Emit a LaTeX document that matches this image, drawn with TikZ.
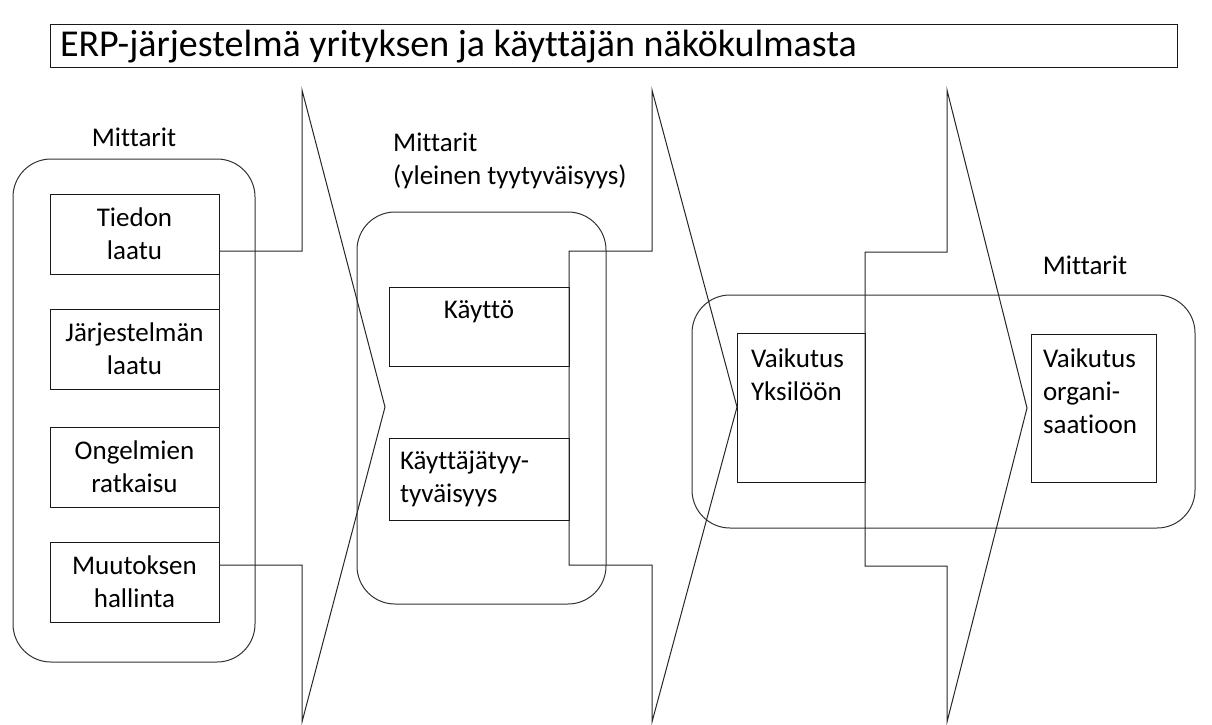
\documentclass[tikz,border=0pt]{standalone}
\usepackage{fontspec}
\setmainfont{Carlito}[Ligatures=NoCommon]
\usetikzlibrary{positioning, calc}

\begin{document}
\begin{tikzpicture}[
        x=1pt, y=-1pt,
        box/.style={rectangle, draw=black!90, line width=1pt, inner sep=0pt, font=\fontsize{27}{33}\selectfont},
        group/.style={rectangle, draw=black!80, line width=1pt, rounded corners=38pt, inner sep=0pt},
        flow/.style={draw=black!85, line width=1pt},
        lbl/.style={font=\fontsize{27}{33}\selectfont, inner sep=0pt},
        head/.style={rectangle, draw=black!90, line width=1pt, font=\fontsize{38}{45}\selectfont, align=flush left, inner xsep=10pt}
    ]
        \useasboundingbox (0,0) rectangle (1212,725);

        % ----------------------------------------------------
        % TITLE
        % ----------------------------------------------------
        \node[head, minimum width=1127pt, minimum height=43pt, text width=1107pt] (title) at (613.5,46.5) {ERP-järjestelmä yrityksen ja käyttäjän näkökulmasta};

        % ----------------------------------------------------
        % GROUPS (rounded frames) AND THEIR LABELS
        % ----------------------------------------------------
        \node[group, minimum width=242pt, minimum height=503pt] (grpsys) at (134,410.5) {};
        \node[group, minimum width=249pt, minimum height=392pt] (grpuse) at (481.5,408) {};
        \node[group, minimum width=503pt, minimum height=233pt] (grpnet) at (943.5,411.5) {};

        \node[lbl] (lblsys) at (134,137) {Mittarit};
        \node[lbl, align=left, anchor=north west] (lbluse) at (393,133) {Mittarit\\(yleinen tyytyväisyys)};
        \node[lbl] (lblnet) at (1085,265) {Mittarit};

        % ----------------------------------------------------
        % MEASURE BOXES
        % ----------------------------------------------------
        \node[box, align=center, minimum width=169pt, minimum height=80pt] (tiedon) at (134.5,234) {Tiedon\\laatu};
        \node[box, align=center, minimum width=169pt, minimum height=80pt] (jarj) at (134.5,349) {Järjestelmän\\laatu};
        \node[box, align=center, minimum width=169pt, minimum height=80pt] (ongel) at (134.5,467) {Ongelmien\\ratkaisu};
        \node[box, align=center, minimum width=169pt, minimum height=80pt] (muutos) at (134.5,582) {Muutoksen\\hallinta};

        \node[box, align=center, text width=158pt, inner xsep=11pt, minimum width=180pt, minimum height=79pt] (kaytto) at (479,326.5) {Käyttö\\\mbox{}};
        \node[box, align=flush left, text width=158pt, inner xsep=11pt, minimum width=180pt, minimum height=82pt] (tyyt) at (479,479) {Käyttäjätyy-\\tyväisyys};

        \node[box, align=flush left, text width=100pt, inner xsep=14pt, minimum width=128pt, minimum height=149pt] (yksilo) at (801,407.5) {Vaikutus\\Yksilöön\\\mbox{}\\\mbox{}};
        \node[box, align=flush left, text width=101pt, inner xsep=12pt, minimum width=125pt, minimum height=148pt] (organ) at (1093.5,408) {Vaikutus\\organi-\\saatioon\\\mbox{}};

        % ----------------------------------------------------
        % FLOW ARROWS (open chevrons between the stages)
        % ----------------------------------------------------
        \coordinate (c1top) at (302,90);
        \coordinate (c1tip) at (385,407);
        \coordinate (c1bot) at (302,722);
        \coordinate (c2in) at (569,251);
        \coordinate (c2top) at (652,90);
        \coordinate (c2tip) at (737,407);
        \coordinate (c2bot) at (652,722);
        \coordinate (c2out) at (569,565);
        \coordinate (c3in) at (865,252);
        \coordinate (c3top) at (947,90);
        \coordinate (c3tip) at (1027,408);
        \coordinate (c3bot) at (947,722);
        \coordinate (c3out) at (865,566);

        \draw[flow] (tiedon.south east) -- (muutos.north east);
        \draw[flow] ([yshift=-17pt]tiedon.east) -| (c1top) -- (c1tip) -- (c1bot) |- ([yshift=17pt]muutos.east);
        \draw[flow] (c2in) -| (c2top) -- (c2tip) -- (c2bot) |- (c2out) -- cycle;
        \draw[flow] (c3in) -| (c3top) -- (c3tip) -- (c3bot) |- (c3out) -- cycle;

    \end{tikzpicture}
\end{document}
